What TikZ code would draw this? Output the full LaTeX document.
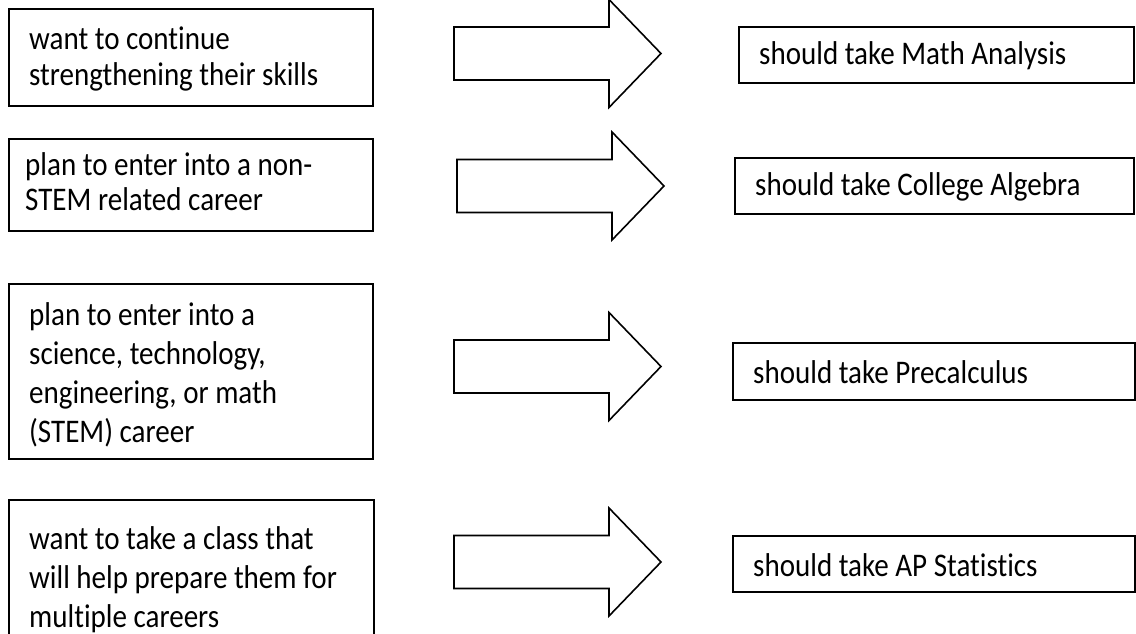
\documentclass[tikz,border=0pt]{standalone}
\usepackage{fontspec}
\setmainfont{Carlito}[FakeStretch=0.88,Ligatures=NoCommon]
\begin{document}
\begin{tikzpicture}[x=1pt,y=-1pt,
  box/.style={draw=black,line width=1.6pt,anchor=north west,inner sep=0pt},
  txt/.style={anchor=west,align=left,inner sep=0pt,
    font=\fontsize{33}{39}\selectfont},
  arrowline/.style={draw=black,line width=1.6pt,fill=white,line join=miter},
  blockarr/.pic={\path[arrowline] (0,-26.5) -- (155,-26.5) -- (155,-54) -- (207,0)
      -- (155,54) -- (155,26.5) -- (0,26.5) -- cycle;}]
\clip (0,0) rectangle (1136,634);
\fill[white] (0,0) rectangle (1136,634);
% left boxes
\node[box,minimum width=364pt,minimum height=97pt] (l1) at (8,8) {};
\node[box,minimum width=364pt,minimum height=92pt] (l2) at (8,138) {};
\node[box,minimum width=364pt,minimum height=175pt] (l3) at (8,283) {};
\node[box,minimum width=365pt,minimum height=160pt] (l4) at (8,499) {};
\node[txt,font=\fontsize{33}{36}\selectfont] (t1) at ([xshift=21pt,yshift=-2pt]l1.west)
  {want to continue\\strengthening their skills};
\node[txt,font=\fontsize{33}{35}\selectfont] (t2) at ([xshift=17pt,yshift=3pt]l2.west)
  {plan to enter into a non-\\STEM related career};
\node[txt] (t3) at ([xshift=21pt,yshift=-4pt]l3.west)
  {plan to enter into a\\science, technology,\\engineering, or math\\(STEM) career};
\node[txt] (t4) at ([xshift=21pt,yshift=0.5pt]l4.west)
  {want to take a class that\\will help prepare them for\\multiple careers};
% right boxes
\node[box,minimum width=395pt,minimum height=56pt] (r1) at (738,26) {};
\node[box,minimum width=399pt,minimum height=56pt] (r2) at (734,157) {};
\node[box,minimum width=402pt,minimum height=57pt] (r3) at (732,342) {};
\node[box,minimum width=402pt,minimum height=56pt] (r4) at (732,535) {};
\node[txt] (s1) at ([xshift=21pt,yshift=-1pt]r1.west) {should take Math Analysis};
\node[txt] (s2) at ([xshift=21pt,yshift=-1pt]r2.west) {should take College Algebra};
\node[txt] (s3) at ([xshift=21pt,yshift=-1pt]r3.west) {should take Precalculus};
\node[txt] (s4) at ([xshift=21pt,yshift=-1pt]r4.west) {should take AP Statistics};
% block arrows
\pic at (454,53.5) {blockarr};
\pic at (457,186) {blockarr};
\pic at (454,366.5) {blockarr};
\pic at (454,562) {blockarr};
\end{tikzpicture}
\end{document}
